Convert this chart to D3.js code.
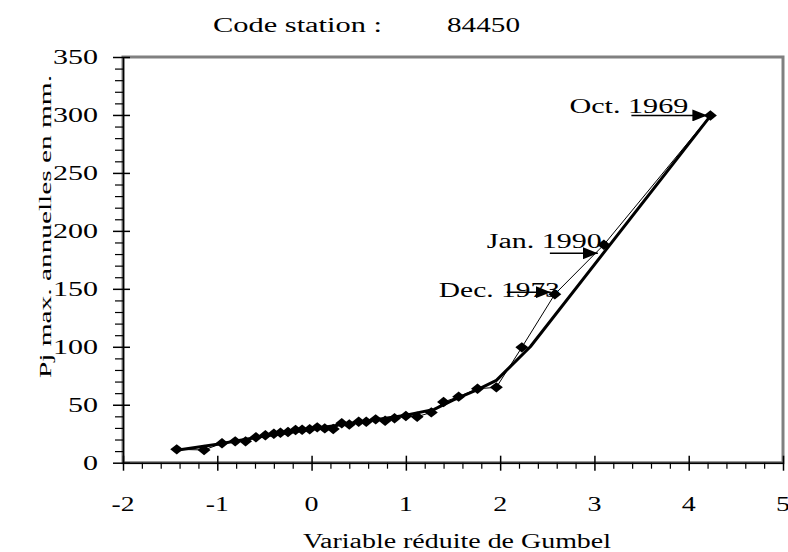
<!doctype html>
<html>
<head>
<meta charset="utf-8">
<script src="https://cdnjs.cloudflare.com/ajax/libs/d3/7.8.5/d3.min.js"></script>
<style>
  body { margin: 0; background: #fff; }
  svg text { font-family: "Liberation Serif", "Times New Roman", serif; fill: #000; }
</style>
</head>
<body>
<svg id="chart" width="788" height="552"></svg>
<script>
// Gumbel reduced variable (u) and annual max daily rainfall (mm)
var obsU = [-1.43, -1.14, -0.95, -0.81, -0.70, -0.59, -0.49, -0.40, -0.33, -0.25,
            -0.17, -0.10, -0.02, 0.06, 0.14, 0.23, 0.32, 0.40, 0.50, 0.58,
            0.68, 0.78, 0.88, 1.00, 1.12, 1.27, 1.40, 1.56, 1.76, 1.96,
            2.23, 2.58, 3.10, 4.23];
var obsP = [11.5, 11, 16.7, 18.4, 18.4, 21.9, 23.6, 25, 25.9, 26.5,
            28.2, 28.5, 28.8, 30.5, 29.6, 29, 34, 33, 35.3, 35.3,
            37.4, 36.2, 38.3, 40.3, 39.7, 43.4, 52.3, 57, 63.8, 65,
            99.5, 145.4, 188, 299.6];

// fitted curve (thick line)
var fitU = [-1.45, -1.0, -0.5, 0, 0.5, 1.0, 1.3, 1.5, 1.76, 1.96, 2.32, 4.21];
var fitP = [10.5, 16, 23, 29, 35, 41, 46, 54, 63, 71, 100, 297];

var xTicks = [-2, -1, 0, 1, 2, 3, 4, 5];
var yTicks = [0, 50, 100, 150, 200, 250, 300, 350];

var annLabels = ["Oct. 1969", "Jan. 1990", "Dec. 1973"];
var annIndex = [33, 32, 31];

var svg = d3.select("#chart");

var x = d3.scaleLinear().domain([-2, 5]).range([123, 783]);
var y = d3.scaleLinear().domain([0, 350]).range([462.7, 57]);

// text stretched to a given width, placed by its left edge
function stretchText(sel, w) {
    return sel.attr("text-anchor", "start")
        .attr("textLength", w).attr("lengthAdjust", "spacingAndGlyphs");
}

// grey frame round the plot area
svg.append("rect")
    .attr("x", x(-2)).attr("y", y(350))
    .attr("width", x(5) - x(-2)).attr("height", y(0) - y(350))
    .attr("fill", "none").attr("stroke", "#808080").attr("stroke-width", 3);

// title
stretchText(svg.append("text").attr("x", 213).attr("y", 32).attr("font-size", 20), 169)
    .text("Code station :");
stretchText(svg.append("text").attr("x", 447).attr("y", 32).attr("font-size", 20), 73)
    .text("84450");

// x axis - minor ticks
var xMinor = d3.range(-2, 5.001, 0.2).filter(function(v) {
    return Math.abs(v - Math.round(v)) > 1e-6;
});
svg.append("g")
    .attr("transform", "translate(0," + y(0) + ")")
    .call(d3.axisBottom(x).tickValues(xMinor).tickSize(6).tickFormat(""))
    .call(function(g) { g.select(".domain").remove(); })
    .selectAll(".tick line").attr("stroke-width", 1.2);

// x axis - major ticks
var gx = svg.append("g")
    .attr("transform", "translate(0," + y(0) + ")")
    .call(d3.axisBottom(x).tickValues(xTicks).tickFormat("")
        .tickSize(8).tickSizeOuter(0));
gx.select(".domain").attr("stroke-width", 1.5);
gx.selectAll(".tick line").attr("y1", -7).attr("stroke-width", 1.5);

// x tick labels
svg.append("g").selectAll("text")
    .data(xTicks)
    .enter().append("text")
    .attr("font-size", 20)
    .attr("y", 511)
    .each(function(d) {
        var w = String(d).length > 1 ? 23 : 14;
        stretchText(d3.select(this).attr("x", x(d) - w / 2), w);
    })
    .text(function(d) { return String(d); });

// y axis - minor ticks
var yMinor = d3.range(0, 350.001, 10).filter(function(v) { return v % 50 !== 0; });
svg.append("g")
    .attr("transform", "translate(" + x(-2) + ",0)")
    .call(d3.axisLeft(y).tickValues(yMinor).tickSize(8).tickFormat(""))
    .call(function(g) { g.select(".domain").remove(); })
    .selectAll(".tick line").attr("stroke-width", 1.2);

// y axis - major ticks
var gy = svg.append("g")
    .attr("transform", "translate(" + x(-2) + ",0)")
    .call(d3.axisLeft(y).tickValues(yTicks).tickFormat("").tickSize(10).tickSizeOuter(0));
gy.select(".domain").attr("stroke-width", 1.5);
gy.selectAll(".tick line").attr("x1", 7).attr("stroke-width", 1.5);

// y tick labels, right edge at x = 98
svg.append("g").selectAll("text")
    .data(yTicks)
    .enter().append("text")
    .attr("font-size", 20)
    .attr("y", function(d) { return y(d) + 7; })
    .each(function(d) {
        var w = String(d).length * 15;
        stretchText(d3.select(this).attr("x", 98 - w), w);
    })
    .text(function(d) { return String(d); });

// axis titles
stretchText(svg.append("text").attr("x", 303).attr("y", 548).attr("font-size", 20), 308)
    .text("Variable réduite de Gumbel");

stretchText(svg.append("text")
    .attr("transform", "translate(51,378) rotate(-90)")
    .attr("font-size", 17), 303)
    .text("Pj max. annuelles en mm.");

// lines
var obs = obsU.map(function(u, i) { return [u, obsP[i]]; });
var fit = fitU.map(function(u, i) { return [u, fitP[i]]; });

var line = d3.line()
    .x(function(d) { return x(d[0]); })
    .y(function(d) { return y(d[1]); });

svg.append("path").datum(fit)
    .attr("d", line)
    .attr("fill", "none").attr("stroke", "#000").attr("stroke-width", 3)
    .attr("stroke-linejoin", "round");

svg.append("path").datum(obs)
    .attr("d", line)
    .attr("fill", "none").attr("stroke", "#000").attr("stroke-width", 1);

// diamond markers
var diamond = {
    draw: function(ctx, size) {
        var w = Math.sqrt(size) * 0.72, h = Math.sqrt(size) * 0.58;
        ctx.moveTo(0, -h); ctx.lineTo(w, 0); ctx.lineTo(0, h); ctx.lineTo(-w, 0); ctx.closePath();
    }
};
svg.append("g").selectAll("path")
    .data(obs)
    .enter().append("path")
    .attr("transform", function(d) { return "translate(" + x(d[0]) + "," + y(d[1]) + ")"; })
    .attr("d", d3.symbol().type(diamond).size(81))
    .attr("fill", "#000");

// annotations with arrows
svg.append("defs").append("marker")
    .attr("id", "arrow")
    .attr("markerUnits", "userSpaceOnUse")
    .attr("viewBox", "0 -6 15 12")
    .attr("refX", 15).attr("refY", 0)
    .attr("markerWidth", 15).attr("markerHeight", 12)
    .attr("orient", "auto")
    .append("path").attr("d", "M0,-6L15,0L0,6Z").attr("fill", "#000");

// tip offset from point, arrow length, text right edge and baseline offsets, text width
var annLayout = [
    { tdx: -3, tdy: 0,   len: 76, txr: -19, tby: -2,  w: 119 },
    { tdx: -6, tdy: 8.5, len: 48, txr: 4,   tby: 3.5, w: 115 },
    { tdx: -4, tdy: -2,  len: 44, txr: 9,   tby: 3,   w: 121 }
];

annLabels.forEach(function(label, i) {
    var p = obs[annIndex[i]], L = annLayout[i];
    var px = x(p[0]), py = y(p[1]);
    var tipX = px + L.tdx, tipY = py + L.tdy;
    stretchText(svg.append("text")
        .attr("x", tipX + L.txr - L.w).attr("y", py + L.tby)
        .attr("font-size", 20), L.w)
        .text(label);
    svg.append("line")
        .attr("x1", tipX - L.len).attr("y1", tipY)
        .attr("x2", tipX).attr("y2", tipY)
        .attr("stroke", "#000").attr("stroke-width", 1.5)
        .attr("marker-end", "url(#arrow)");
});
</script>
</body>
</html>
